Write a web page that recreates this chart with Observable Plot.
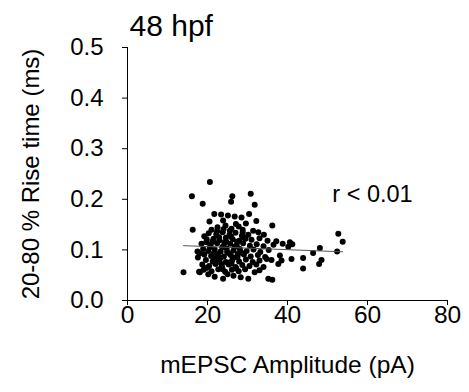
<!DOCTYPE html>
<html>
<head>
<meta charset="utf-8">
<script src="https://cdn.jsdelivr.net/npm/d3@7"></script>
<script src="https://cdn.jsdelivr.net/npm/@observablehq/plot@0.6"></script>
<style>
  html, body { margin: 0; padding: 0; background: #fff; }
</style>
</head>
<body>
<div id="chart"></div>
<script>
const title = "48 hpf";
const xLabel = "mEPSC Amplitude (pA)";
const yLabel = "20-80 % Rise time (ms)";
const annotation = "r < 0.01";
const xTicks = [0, 20, 40, 60, 80];
const yTicks = [0, 0.1, 0.2, 0.3, 0.4, 0.5];

// mEPSC amplitude (pA)
const amplitude = [
  20.6, 16.1, 26.2, 30.8, 18.8, 25.9, 31.8,
  21.7, 23.4, 25.1, 26.8, 28.5, 30.4, 20.5, 23.9, 32.2, 16.3, 29.6, 36.2,
  31.4, 32.7, 34.1, 37.2, 40.6, 41.2, 40.2, 48.1, 52.7, 53.8, 52.4, 46.4,
  48.5, 47.9, 43.9, 41.0, 43.9, 38.1, 38.5, 37.7, 36.0, 36.2, 30.2, 35.2,
  31.8, 14.0, 17.9, 17.6, 19.7,
  22.5, 24.5, 26.0, 27.8, 21.0, 28.8,
  20.3, 22.2, 23.8, 25.5, 27.0, 28.6, 30.2, 19.2,
  19.8, 21.5, 23.0, 24.6, 26.3, 27.9, 29.5, 31.0, 33.0, 35.0,
  18.5, 20.8, 22.4, 24.0, 25.7, 27.3, 28.9, 30.6, 32.3, 34.0, 36.5, 38.8,
  18.9, 20.2, 21.8, 23.3, 24.8, 26.5, 28.1, 29.8, 31.5, 33.2, 35.3, 17.5,
  19.2, 20.9, 22.6, 24.1, 25.8, 27.5, 29.1, 30.8, 32.6, 34.4, 18.0,
  19.6, 21.3, 23.0, 24.6, 26.2, 27.9, 29.6, 31.3, 33.0, 34.8,
  18.7, 20.4, 22.0, 23.6, 25.3, 27.0, 28.7, 30.5, 32.2, 34.0,
  19.0, 21.0, 22.7, 24.4, 26.1, 27.8, 29.4, 33.0, 25.0,
  18.1, 20.2, 21.8, 23.9, 26.5, 28.3, 19.7,
  21.2, 22.9, 24.3, 25.9, 27.4, 29.0, 23.7, 25.2, 26.8, 28.4,
  21.6, 23.2, 24.9, 26.6, 28.2, 22.1, 23.8, 25.5, 27.2, 20.6,
  22.4, 24.0, 25.6, 27.1, 28.8, 21.9, 23.5, 26.0, 27.6, 24.7
];
// 20-80 % rise time (ms)
const riseTime = [
  0.234, 0.206, 0.206, 0.211, 0.191, 0.195, 0.189,
  0.171, 0.170, 0.168, 0.166, 0.164, 0.171, 0.156, 0.158, 0.157, 0.140, 0.152, 0.148,
  0.138, 0.135, 0.130, 0.117, 0.115, 0.111, 0.106, 0.104, 0.132, 0.116, 0.097, 0.094,
  0.080, 0.072, 0.084, 0.082, 0.063, 0.089, 0.079, 0.072, 0.080, 0.041, 0.043, 0.043,
  0.056, 0.056, 0.057, 0.085, 0.115,
  0.145, 0.148, 0.142, 0.146, 0.140, 0.140,
  0.133, 0.131, 0.135, 0.130, 0.134, 0.128, 0.130, 0.127,
  0.121, 0.122, 0.119, 0.124, 0.121, 0.118, 0.122, 0.120, 0.123, 0.118,
  0.112, 0.110, 0.113, 0.108, 0.112, 0.109, 0.113, 0.108, 0.111, 0.107, 0.110, 0.112,
  0.102, 0.098, 0.101, 0.097, 0.103, 0.099, 0.102, 0.098, 0.101, 0.096, 0.100, 0.097,
  0.091, 0.088, 0.092, 0.087, 0.090, 0.086, 0.091, 0.087, 0.090, 0.086, 0.093,
  0.080, 0.077, 0.081, 0.076, 0.080, 0.077, 0.081, 0.076, 0.079, 0.082,
  0.071, 0.068, 0.072, 0.067, 0.071, 0.066, 0.070, 0.068, 0.071, 0.066,
  0.061, 0.058, 0.062, 0.057, 0.061, 0.058, 0.062, 0.060, 0.052,
  0.056, 0.052, 0.047, 0.043, 0.049, 0.046, 0.064,
  0.116, 0.125, 0.115, 0.126, 0.116, 0.125, 0.105, 0.094, 0.106, 0.095,
  0.094, 0.084, 0.096, 0.085, 0.096, 0.074, 0.062, 0.075, 0.063, 0.105,
  0.137, 0.141, 0.138, 0.151, 0.135, 0.083, 0.072, 0.073, 0.092, 0.116
];

const points = amplitude.map((a, i) => ({amp: a, rise: riseTime[i]}));

const chart = Plot.plot({
  width: 469,
  height: 392,
  marginLeft: 127,
  marginRight: 22,
  marginTop: 47,
  marginBottom: 92,
  style: {fontFamily: "Arial, 'Liberation Sans', sans-serif", fontSize: "24px", color: "#000", background: "#fff"},
  x: {domain: [0, 80], ticks: xTicks},
  y: {domain: [0, 0.5], ticks: yTicks},
  marks: [
    Plot.axisX({ticks: xTicks, tickSize: 5, tickPadding: 0, tickFormat: d3.format("d"),
      label: xLabel, labelAnchor: "center", labelArrow: "none", labelOffset: 72, fontSize: 24.5}),
    Plot.axisY({ticks: yTicks, tickSize: 5, tickPadding: 19, tickFormat: d3.format(".1f"),
      label: yLabel, labelAnchor: "center", labelArrow: "none", labelOffset: 106, fontSize: 24}),
    Plot.ruleX([0], {y1: 0, y2: 0.5, stroke: "#000", strokeWidth: 1}),
    Plot.ruleY([0], {x1: 0, x2: 80, stroke: "#000", strokeWidth: 1}),
    Plot.dot(points, {x: "amp", y: "rise", r: 3, fill: "#000", stroke: "none"}),
    Plot.linearRegressionY(points, {x: "amp", y: "rise", ci: 0, stroke: "#555", strokeWidth: 1}),
    Plot.text([annotation], {frameAnchor: "top-right", dx: -75, dy: 138, text: d => d, fontSize: 23.5, textAnchor: "middle", fill: "#000"}),
    Plot.text([title], {frameAnchor: "top-left", dx: 2, dy: -12, text: d => d, fontSize: 30, textAnchor: "start", lineAnchor: "bottom", fill: "#000"})
  ]
});
document.getElementById("chart").appendChild(chart);
</script>
</body>
</html>
